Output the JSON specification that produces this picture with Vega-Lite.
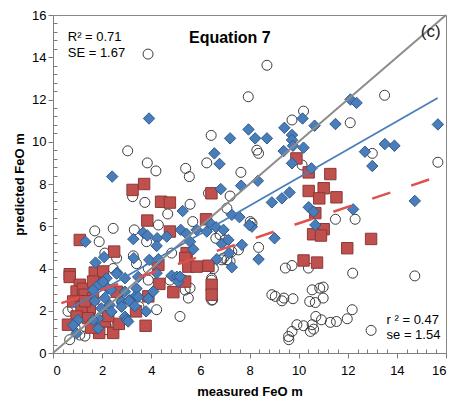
{
  "$schema": "https://vega.github.io/schema/vega-lite/v6.json",
  "width": 393,
  "height": 338,
  "autosize": {"type": "none"},
  "padding": {"left": 53, "top": 15, "right": 8, "bottom": 51},
  "config": {
    "view": {"stroke": "#878787", "strokeWidth": 1},
    "font": "Liberation Sans",
    "axis": {"grid": false, "domainColor": "#808080", "tickColor": "#7a7a7a", "tickWidth": 1, "labelColor": "#000000", "titleColor": "#000000", "labelFontSize": 13, "titleFontSize": 13, "titleFontWeight": "bold", "labelFont": "Liberation Sans", "titleFont": "Liberation Sans"}
  },
  "datasets": {
    "circles": [
      {"x":3.87,"y":14.15},{"x":8.71,"y":13.62},{"x":13.5,"y":12.2},{"x":7.95,"y":12.13},{"x":6.44,"y":10.3},{"x":3.04,"y":9.57},{"x":3.84,"y":9.0},{"x":4.19,"y":8.62},{"x":5.4,"y":8.74},{"x":5.55,"y":8.35},{"x":6.26,"y":9.0},{"x":7.65,"y":8.55},{"x":10.2,"y":11.45},{"x":9.73,"y":11.03},{"x":12.1,"y":10.9},{"x":8.3,"y":9.6},{"x":8.37,"y":9.45},{"x":13.0,"y":9.45},{"x":10.14,"y":8.9},{"x":15.67,"y":9.03},
      {"x":3.24,"y":7.4},{"x":3.74,"y":7.13},{"x":6.33,"y":7.56},{"x":7.21,"y":7.43},{"x":5.58,"y":7.04},{"x":4.67,"y":6.58},{"x":5.69,"y":6.22},{"x":7.08,"y":6.85},{"x":1.7,"y":5.78},{"x":2.45,"y":5.9},{"x":1.88,"y":5.27},{"x":3.31,"y":5.83},{"x":3.81,"y":5.27},{"x":4.29,"y":6.06},{"x":4.83,"y":4.73},{"x":2.59,"y":4.49},{"x":2.11,"y":4.73},{"x":3.27,"y":4.6},{"x":6.63,"y":5.43},{"x":6.94,"y":4.49},{"x":7.21,"y":4.33},{"x":5.58,"y":3.07},{"x":5.31,"y":3.46},{"x":5.51,"y":2.6},{"x":4.22,"y":2.05},{"x":5.17,"y":1.73},{"x":6.46,"y":3.54},{"x":6.5,"y":2.52},{"x":0.61,"y":1.97},{"x":0.68,"y":0.63},{"x":1.7,"y":1.26},{"x":9.6,"y":0.63},
      {"x":8.1,"y":6.14},{"x":8.37,"y":5.0},{"x":11.5,"y":6.33},{"x":12.3,"y":6.33},{"x":9.46,"y":4.02},{"x":9.73,"y":4.14},{"x":10.4,"y":4.02},{"x":12.2,"y":3.78},{"x":14.73,"y":3.65},{"x":8.91,"y":2.76},{"x":9.05,"y":2.68},{"x":9.32,"y":2.47},{"x":9.4,"y":2.6},{"x":9.77,"y":2.57},{"x":10.55,"y":2.99},{"x":10.86,"y":3.07},{"x":11.0,"y":3.12},{"x":10.45,"y":2.44},{"x":10.68,"y":2.39},{"x":11.0,"y":2.6},{"x":10.7,"y":1.73},{"x":10.93,"y":1.57},{"x":11.29,"y":1.45},{"x":11.54,"y":1.49},{"x":11.98,"y":1.62},{"x":12.18,"y":2.05},{"x":9.93,"y":1.34},{"x":10.2,"y":1.29},{"x":10.55,"y":1.34},{"x":9.73,"y":1.02},{"x":9.59,"y":0.78},{"x":10.48,"y":1.02},{"x":10.61,"y":1.13},{"x":12.95,"y":1.07},
      {"x":3.88,"y":3.45},{"x":3.88,"y":4.0},{"x":5.38,"y":2.98},{"x":4.76,"y":3.45},{"x":6.46,"y":2.5},{"x":6.46,"y":3.45},{"x":6.53,"y":4.0},{"x":3.4,"y":4.23},{"x":2.45,"y":4.0},{"x":1.57,"y":1.64},{"x":1.09,"y":0.85},{"x":8.03,"y":6.22},{"x":6.8,"y":5.59},{"x":7.0,"y":5.35},{"x":7.28,"y":4.8},{"x":7.55,"y":4.88},{"x":6.87,"y":4.41},{"x":7.08,"y":4.41},
      {"x":0.9,"y":1.2},{"x":1.3,"y":0.8},{"x":1.5,"y":1.9},{"x":2.2,"y":1.1},{"x":2.8,"y":2.4},{"x":3.5,"y":2.2},{"x":2.0,"y":3.3},{"x":1.1,"y":2.6},{"x":2.6,"y":1.3},{"x":0.8,"y":2.1}
    ],
    "squares": [
      {"x":3.24,"y":7.72},{"x":3.71,"y":8.0},{"x":4.4,"y":7.16},{"x":4.76,"y":7.12},{"x":6.45,"y":7.56},{"x":3.84,"y":6.27},{"x":4.76,"y":5.75},{"x":6.23,"y":6.33},{"x":1.09,"y":5.35},{"x":2.49,"y":4.8},{"x":5.44,"y":4.73},{"x":5.38,"y":4.5},{"x":4.29,"y":4.17},{"x":5.51,"y":4.09},{"x":5.85,"y":4.09},{"x":6.33,"y":4.13},{"x":0.68,"y":3.73},{"x":0.68,"y":3.6},{"x":1.7,"y":3.81},{"x":2.04,"y":3.86},{"x":4.33,"y":3.27},{"x":5.38,"y":3.38},{"x":6.46,"y":3.23},{"x":6.46,"y":2.76},{"x":4.9,"y":2.88},{"x":1.09,"y":3.23},{"x":0.96,"y":2.91},{"x":1.22,"y":3.04},{"x":1.29,"y":2.76},{"x":1.63,"y":3.38},{"x":0.82,"y":2.44},{"x":1.5,"y":2.13},{"x":1.16,"y":2.17},{"x":0.96,"y":1.73},{"x":1.43,"y":1.65},{"x":0.61,"y":1.34},{"x":2.11,"y":1.49},{"x":1.88,"y":0.95},{"x":2.45,"y":0.95},{"x":2.68,"y":1.38},{"x":3.38,"y":1.97},{"x":3.77,"y":1.29},{"x":3.88,"y":2.68},{"x":1.63,"y":2.58},{"x":1.3,"y":2.45},{"x":2.25,"y":1.75},{"x":1.55,"y":1.2},{"x":2.6,"y":2.9},
      {"x":11.29,"y":8.47},{"x":10.41,"y":7.67},{"x":11.02,"y":7.8},{"x":10.84,"y":7.32},{"x":11.54,"y":7.37},{"x":10.68,"y":6.62},{"x":11.02,"y":5.86},{"x":10.59,"y":5.62},{"x":10.91,"y":5.56},{"x":12.95,"y":5.4},{"x":11.98,"y":4.96},{"x":10.2,"y":4.38},{"x":10.75,"y":4.28},{"x":9.91,"y":9.21},{"x":10.41,"y":8.55}
    ],
    "diamonds": [
      {"x":3.91,"y":11.1},{"x":6.57,"y":9.45},{"x":6.78,"y":8.95},{"x":7.21,"y":10.16},{"x":7.96,"y":10.58},{"x":2.41,"y":8.35},{"x":12.11,"y":12.0},{"x":12.36,"y":11.84},{"x":15.67,"y":10.82},{"x":10.16,"y":11.1},{"x":10.65,"y":10.76},{"x":11.5,"y":10.84},{"x":9.42,"y":10.66},{"x":8.23,"y":10.16},{"x":8.71,"y":10.16},{"x":9.73,"y":10.32},{"x":9.73,"y":10.08},{"x":9.77,"y":9.81},{"x":10.2,"y":9.72},{"x":9.39,"y":9.56},{"x":9.73,"y":8.98},{"x":10.52,"y":8.74},{"x":12.7,"y":9.53},{"x":13.51,"y":9.89},{"x":13.9,"y":9.81},{"x":13.0,"y":8.85},{"x":8.34,"y":8.15},{"x":8.91,"y":7.13},{"x":9.32,"y":7.32},{"x":9.63,"y":7.6},{"x":10.41,"y":6.9},{"x":10.61,"y":6.69},{"x":10.68,"y":6.06},{"x":12.22,"y":6.8},{"x":14.73,"y":7.2},{"x":8.1,"y":5.98},{"x":9.02,"y":5.43},{"x":8.37,"y":4.44},
      {"x":6.83,"y":7.76},{"x":7.66,"y":7.92},{"x":5.28,"y":6.72},{"x":7.28,"y":6.54},{"x":7.59,"y":6.43},{"x":7.99,"y":6.06},{"x":6.44,"y":6.1},{"x":6.64,"y":5.95},{"x":6.94,"y":5.83},{"x":6.26,"y":5.75},{"x":5.2,"y":5.83},{"x":5.44,"y":5.64},{"x":5.85,"y":5.83},{"x":3.67,"y":5.7},{"x":3.84,"y":5.56},{"x":4.24,"y":5.43},{"x":4.63,"y":5.51},{"x":3.27,"y":5.39},{"x":1.32,"y":5.27},{"x":4.22,"y":5.07},{"x":5.58,"y":5.27},{"x":5.71,"y":4.91},{"x":6.87,"y":5.17},{"x":7.14,"y":5.35},{"x":7.69,"y":5.12},{"x":7.17,"y":4.73},{"x":6.67,"y":4.44},{"x":7.28,"y":4.06},{"x":1.73,"y":4.28},{"x":2.08,"y":4.54},{"x":3.29,"y":4.49},{"x":3.92,"y":4.41},{"x":4.29,"y":4.44},{"x":4.83,"y":3.66},{"x":5.04,"y":3.61},{"x":5.1,"y":3.37},{"x":5.17,"y":3.61},{"x":4.22,"y":3.78},{"x":2.61,"y":3.81},{"x":2.93,"y":3.54},{"x":2.18,"y":3.54},{"x":3.4,"y":3.05},{"x":4.08,"y":2.91},{"x":3.88,"y":2.57},
      {"x":2.59,"y":3.76},{"x":1.84,"y":3.21},{"x":2.04,"y":3.37},{"x":1.63,"y":2.98},{"x":2.24,"y":3.05},{"x":2.93,"y":2.9},{"x":3.33,"y":2.66},{"x":3.47,"y":3.6},{"x":1.7,"y":2.46},{"x":2.11,"y":2.61},{"x":2.31,"y":2.27},{"x":1.97,"y":2.11},{"x":2.38,"y":1.95},{"x":2.79,"y":2.42},{"x":3.13,"y":2.5},{"x":2.79,"y":2.19},{"x":2.93,"y":1.72},{"x":3.0,"y":1.56},{"x":1.84,"y":1.64},{"x":1.63,"y":1.56},{"x":1.02,"y":1.56},{"x":0.82,"y":1.32},{"x":0.96,"y":0.93},{"x":1.84,"y":1.16},{"x":3.09,"y":2.47},{"x":3.33,"y":2.22},{"x":3.79,"y":1.97},{"x":3.06,"y":1.49},{"x":2.36,"y":2.99},{"x":3.47,"y":2.66}
    ],
    "oneToOne": [{"x":0,"y":0},{"x":16,"y":16}],
    "blueFit": [{"x":0.75,"y":2.14},{"x":15.66,"y":12.07}],
    "redFit": [{"x":0.34,"y":2.36},{"x":16,"y":8.48}]
  },
  "layer": [
    {
      "data": {"name": "circles"},
      "mark": {"type": "point", "shape": "circle", "filled": false, "stroke": "#3c3c3c", "strokeWidth": 1, "size": 100, "opacity": 1},
      "encoding": {
        "x": {"field": "x", "type": "quantitative", "scale": {"domain": [0, 16], "nice": false, "zero": false},
              "axis": {"values": [0,2,4,6,8,10,12,14,16], "ticks": true, "tickSize": 5, "labelPadding": 6, "title": "measured FeO m", "titlePadding": 8}},
        "y": {"field": "y", "type": "quantitative", "scale": {"domain": [0, 16], "nice": false, "zero": false},
              "axis": {"values": [0,2,4,6,8,10,12,14,16], "ticks": true, "tickSize": 5, "labelPadding": 2, "title": "predicted FeO m", "titlePadding": 5}}
      }
    },
    {
      "data": {"name": "squares"},
      "mark": {"type": "point", "shape": "square", "filled": true, "fill": "#c0504d", "stroke": "#8c3836", "strokeWidth": 1, "size": 130, "opacity": 1},
      "encoding": {
        "x": {"field": "x", "type": "quantitative",
              "axis": {"orient": "bottom", "offset": -4, "zindex": 1, "values": [0.4,0.8,1.2,1.6,2.4,2.8,3.2,3.6,4.4,4.8,5.2,5.6,6.4,6.8,7.2,7.6,8.4,8.8,9.2,9.6,10.4,10.8,11.2,11.6,12.4,12.8,13.2,13.6,14.4,14.8,15.2,15.6], "tickSize": 4, "ticks": true, "labels": false, "domain": false, "title": null}},
        "y": {"field": "y", "type": "quantitative",
              "axis": {"orient": "left", "offset": -4, "zindex": 1, "values": [0.4,0.8,1.2,1.6,2.4,2.8,3.2,3.6,4.4,4.8,5.2,5.6,6.4,6.8,7.2,7.6,8.4,8.8,9.2,9.6,10.4,10.8,11.2,11.6,12.4,12.8,13.2,13.6,14.4,14.8,15.2,15.6], "tickSize": 4, "ticks": true, "labels": false, "domain": false, "title": null}}
      }
    },
    {
      "data": {"name": "diamonds"},
      "mark": {"type": "point", "shape": "diamond", "filled": true, "fill": "#4a7ebb", "stroke": "#2f5a8c", "strokeWidth": 1, "size": 130, "opacity": 1},
      "encoding": {
        "x": {"field": "x", "type": "quantitative", "axis": null},
        "y": {"field": "y", "type": "quantitative", "axis": null}
      }
    },
    {
      "data": {"name": "oneToOne"},
      "mark": {"type": "line", "stroke": "#8c8c8c", "strokeWidth": 2},
      "encoding": {
        "x": {"field": "x", "type": "quantitative", "axis": null},
        "y": {"field": "y", "type": "quantitative", "axis": null}
      }
    },
    {
      "data": {"name": "blueFit"},
      "mark": {"type": "line", "stroke": "#4a7ebb", "strokeWidth": 1.8},
      "encoding": {
        "x": {"field": "x", "type": "quantitative", "axis": null},
        "y": {"field": "y", "type": "quantitative", "axis": null}
      }
    },
    {
      "data": {"name": "redFit"},
      "mark": {"type": "line", "stroke": "#e0504e", "strokeWidth": 2.5, "strokeDash": [19, 22]},
      "encoding": {
        "x": {"field": "x", "type": "quantitative", "axis": null},
        "y": {"field": "y", "type": "quantitative", "axis": null}
      }
    },
    {
      "data": {"values": [{}]},
      "mark": {"type": "text", "align": "left", "baseline": "middle", "fontSize": 13, "text": "R² = 0.71", "color": "#000000"},
      "encoding": {"x": {"datum": 0.6, "type": "quantitative", "axis": null}, "y": {"datum": 14.98, "type": "quantitative", "axis": null}}
    },
    {
      "data": {"values": [{}]},
      "mark": {"type": "text", "align": "left", "baseline": "middle", "fontSize": 13, "text": "SE = 1.67", "color": "#000000"},
      "encoding": {"x": {"datum": 0.6, "type": "quantitative", "axis": null}, "y": {"datum": 14.19, "type": "quantitative", "axis": null}}
    },
    {
      "data": {"values": [{}]},
      "mark": {"type": "text", "align": "center", "baseline": "middle", "fontSize": 16, "fontWeight": "bold", "text": "Equation 7", "color": "#000000"},
      "encoding": {"x": {"datum": 7.2, "type": "quantitative", "axis": null}, "y": {"datum": 14.89, "type": "quantitative", "axis": null}}
    },
    {
      "data": {"values": [{}]},
      "mark": {"type": "text", "align": "center", "baseline": "middle", "fontSize": 17, "text": "(c)", "color": "#222222"},
      "encoding": {"x": {"datum": 15.38, "type": "quantitative", "axis": null}, "y": {"datum": 15.2, "type": "quantitative", "axis": null}}
    },
    {
      "data": {"values": [{}]},
      "mark": {"type": "text", "align": "left", "baseline": "middle", "fontSize": 13, "text": "r ² = 0.47", "color": "#000000"},
      "encoding": {"x": {"datum": 13.58, "type": "quantitative", "axis": null}, "y": {"datum": 1.57, "type": "quantitative", "axis": null}}
    },
    {
      "data": {"values": [{}]},
      "mark": {"type": "text", "align": "left", "baseline": "middle", "fontSize": 13, "text": "se = 1.54", "color": "#000000"},
      "encoding": {"x": {"datum": 13.58, "type": "quantitative", "axis": null}, "y": {"datum": 0.83, "type": "quantitative", "axis": null}}
    }
  ],
  "resolve": {"axis": {"x": "independent", "y": "independent"}}
}
